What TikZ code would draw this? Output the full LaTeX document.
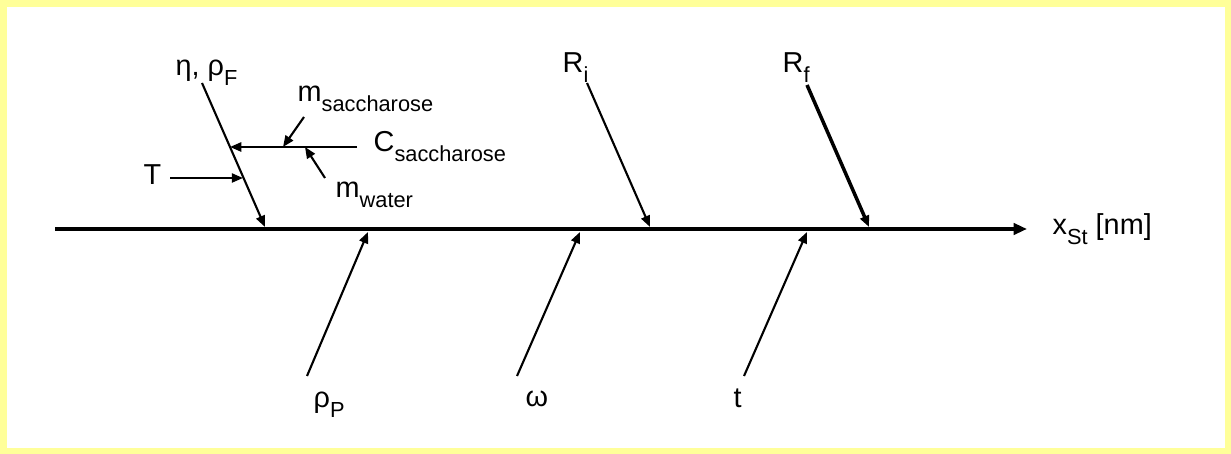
\documentclass[tikz,border=0pt]{standalone}
\usepackage{fontspec}
\setmainfont{Liberation Sans}
\usetikzlibrary{arrows.meta}
\definecolor{paneyellow}{HTML}{FFFF99}
\newcommand{\lowsub}[1]{\raisebox{-0.32em}{\fontsize{6.2}{7}\selectfont #1}}
\tikzset{
  lbl/.style={inner sep=0pt,anchor=base west,font=\fontsize{8.2}{9.8}\selectfont},
  feed/.style={line width=0.6pt,-{Triangle[length=3.2pt,width=2.6pt]}},
}

\begin{document}
\begin{tikzpicture}[x=1cm,y=1cm]
  \fill[paneyellow] (0,0) rectangle (12.31,4.54);
  \fill[white] (0.07,0.06) rectangle (12.25,4.47);
  \useasboundingbox (0,0) rectangle (12.31,4.54);

  % main axis
  \coordinate (axL) at (0.55,2.25);
  \coordinate (axR) at (10.27,2.25);
  \draw[line width=1.15pt,-{Triangle[length=3.8pt,width=3.2pt]}] (axL) -- (axR);
  \node[lbl] (xst) at (10.52,2.19) {x\lowsub{St} [nm]};

  % points where the causes meet the axis
  \coordinate (etatip) at (2.65,2.27);
  \coordinate (Ritip) at (6.50,2.27);
  \coordinate (Rftip) at (8.69,2.27);
  \coordinate (rhoPtip) at (3.68,2.22);
  \coordinate (omtip) at (5.80,2.22);
  \coordinate (ttip) at (8.07,2.22);

  % upper causes
  \node[lbl] (eta) at (1.75,3.78) {η, ρ\lowsub{F}};
  \node[lbl] (Ri) at (5.62,3.81) {R\lowsub{i}};
  \node[lbl] (Rf) at (7.82,3.81) {R\lowsub{f}};
  \coordinate (etafoot) at (2.02,3.71);
  \coordinate (Rifoot) at (5.87,3.71);
  \coordinate (Rffoot) at (8.07,3.69);
  \draw[feed] (etafoot) -- (etatip);
  \draw[feed] (Rifoot) -- (Ritip);
  \draw[feed,line width=1pt] (Rffoot) -- (Rftip);

  % sub-branches on the eta line
  \coordinate (cjoin) at (2.30,3.07);
  \coordinate (tjoin) at (2.43,2.76);
  \node[lbl] (csac) at (3.73,3.02) {C\lowsub{saccharose}};
  \node[lbl] (T) at (1.43,2.69) {T};
  \coordinate (cfoot) at (3.57,3.07);
  \coordinate (tfoot) at (1.70,2.76);
  \draw[feed] (cfoot) -- (cjoin);
  \draw[feed] (tfoot) -- (tjoin);

  \node[lbl] (msac) at (2.97,3.52) {m\lowsub{saccharose}};
  \node[lbl] (mwat) at (3.35,2.56) {m\lowsub{water}};
  \coordinate (msactip) at (2.83,3.07);
  \coordinate (mwattip) at (3.05,3.07);
  \coordinate (msacfoot) at (3.04,3.37);
  \coordinate (mwatfoot) at (3.25,2.76);
  \draw[feed] (msacfoot) -- (msactip);
  \draw[feed] (mwatfoot) -- (mwattip);

  % lower causes
  \node[lbl] (rhoP) at (3.13,0.46) {ρ\lowsub{P}};
  \node[lbl] (om) at (5.25,0.47) {ω};
  \node[lbl] (t) at (7.33,0.46) {t};
  \coordinate (rhoPfoot) at (3.07,0.78);
  \coordinate (omfoot) at (5.17,0.78);
  \coordinate (tfoot2) at (7.44,0.78);
  \draw[feed] (rhoPfoot) -- (rhoPtip);
  \draw[feed] (omfoot) -- (omtip);
  \draw[feed] (tfoot2) -- (ttip);
\end{tikzpicture}
\end{document}
